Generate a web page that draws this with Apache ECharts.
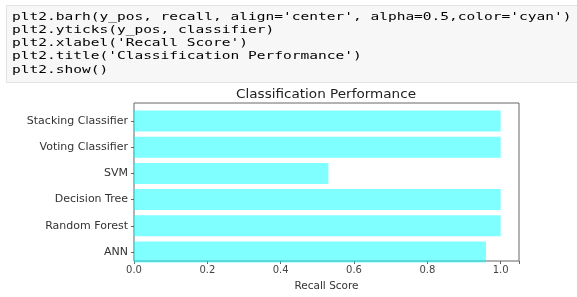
<!DOCTYPE html>
<html><head><meta charset="utf-8">
<script src="https://cdn.jsdelivr.net/npm/echarts@6/dist/echarts.min.js"></script>
<style>html,body{margin:0;padding:0;background:#fff}#c{width:577px;height:297px}</style>
</head><body><div id="c"></div>
<script>
const classifier = ['ANN', 'Random Forest', 'Decision Tree', 'SVM', 'Voting Classifier', 'Stacking Classifier'];
const recall = [0.96, 1.0, 1.0, 0.53, 1.0, 1.0];
const xTicks = [0.0, 0.2, 0.4, 0.6, 0.8, 1.0];
const codeLines = [
  [['t','plt2.barh(y_pos, recall, align'],['o','='],['s',"'center'"],['t',', alpha'],['o','='],['n','0.5'],['t',',color'],['o','='],['s',"'cyan'"],['t',')']],
  [['t','plt2.yticks(y_pos, classifier)']],
  [['t','plt2.xlabel('],['s',"'Recall Score'"],['t',')']],
  [['t','plt2.title('],['s',"'Classification Performance'"],['t',')']],
  [['t','plt2.show()']]
];

const chart = echarts.init(document.getElementById('c'), null, {renderer:'canvas'});
const mono = '"DejaVu Sans Mono", "Liberation Mono", monospace';
const rich = {
  t:{color:'#333', fontFamily:mono, fontSize:11},
  o:{color:'#a2a', fontFamily:mono, fontSize:11},
  s:{color:'#ba2121', fontFamily:mono, fontSize:11},
  n:{color:'#080', fontFamily:mono, fontSize:11}
};
const graphics = [{
  type:'rect', left:6, top:5, shape:{width:571, height:77},
  style:{fill:'#f7f7f7', stroke:'#e3e3e3', lineWidth:1}, silent:true, z:0
}];
codeLines.forEach((segs, i) => {
  graphics.push({
    type:'text', x:12, y:17 + i*13.2, scaleX:1.32, z:1,
    style:{
      text: segs.map(([k,s]) => '{' + k + '|' + s + '}').join(''),
      rich: rich, verticalAlign:'middle'
    }
  });
});
graphics.push({
  type:'text', x:326, y:95, scaleX:1.13, z:1,
  style:{text:'Classification Performance', fill:'#222', font:'12px "DejaVu Sans"', align:'center', verticalAlign:'middle'}
});

const tickSet = new Set(xTicks.map(v => v.toFixed(1)));
chart.setOption({
  backgroundColor:'#fff',
  animation:false,
  graphic: graphics,
  grid:[
    {left:134, right:58, top:103, bottom:27, show:true, borderColor:'#666', borderWidth:1, backgroundColor:'transparent'},
    {left:134, right:58, top:108, bottom:32}
  ],
  xAxis:[
    {gridIndex:0, type:'value', min:0, max:1.05, interval:0.2,
     axisLine:{show:false}, splitLine:{show:false},
     axisTick:{show:true, length:3, lineStyle:{color:'#666'}},
     axisLabel:{fontSize:10, color:'#444', fontFamily:'"DejaVu Sans"', margin:4,
       formatter: v => tickSet.has((+v).toFixed(1)) && Math.abs(v*5 - Math.round(v*5)) < 1e-6 ? (+v).toFixed(1) : ''},
     name:'Recall Score', nameLocation:'middle', nameGap:20,
     nameTextStyle:{fontSize:10.5, color:'#333', fontFamily:'"DejaVu Sans"'}},
    {gridIndex:1, type:'value', min:0, max:1.05, show:false}
  ],
  yAxis:[
    {gridIndex:0, type:'value', min:0, max:1, show:false},
    {gridIndex:1, type:'category', data:classifier,
     axisLine:{show:false},
     axisTick:{show:true, alignWithLabel:true, length:3, lineStyle:{color:'#666'}},
     axisLabel:{fontSize:11, color:'#333', fontFamily:'"DejaVu Sans"', margin:6}}
  ],
  series:[{
    type:'bar', xAxisIndex:1, yAxisIndex:1, data:recall,
    barCategoryGap:'20%',
    itemStyle:{color:'rgba(0,255,255,0.5)'}
  }]
});
</script></body></html>
